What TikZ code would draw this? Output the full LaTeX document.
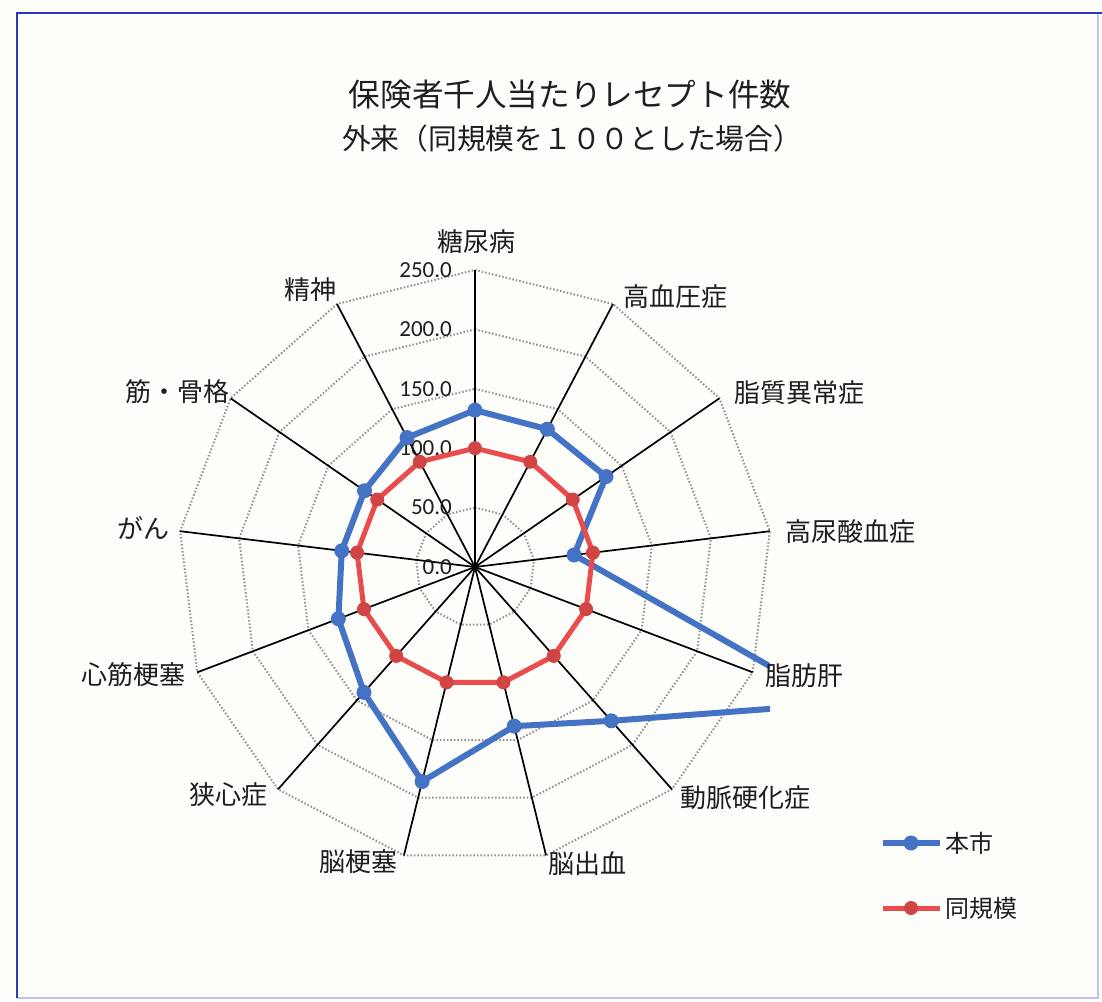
\documentclass[tikz,border=0pt]{standalone}
\usepackage{fontspec}
\setmainfont{Carlito}
\newfontfamily\jpfont{Noto Sans CJK JP}

\definecolor{paper}{RGB}{253,253,249}
\definecolor{honshi}{RGB}{68,114,196}
\definecolor{doukibo}{RGB}{232,76,76}
\definecolor{gridgray}{RGB}{145,145,145}
\definecolor{frameblue}{RGB}{45,55,190}
\definecolor{framelight}{RGB}{200,190,240}
\definecolor{inktext}{RGB}{30,30,30}

\tikzset{
  gridring/.style={gridgray, line width=2pt, dash pattern=on 1.5pt off 2pt},
  spoke/.style={black, line width=1.7pt},
  honshiline/.style={honshi, line width=6pt, line join=round},
  doukiboline/.style={doukibo, line width=5pt, line join=round},
  honshidot/.style={circle, fill=honshi, inner sep=0pt, minimum size=15pt},
  doukibodot/.style={circle, fill=doukibo!90!black, inner sep=0pt, minimum size=14pt},
  catlabel/.style={font=\jpfont\fontsize{26}{30}\selectfont, text=inktext, inner sep=0pt},
  ticklabel/.style={font=\fontsize{23}{26}\selectfont, text=inktext, anchor=east, inner sep=0pt},
}

\begin{document}
\begin{tikzpicture}[x=1pt,y=1pt]
\useasboundingbox (0,0) rectangle (1102,1001);
\fill [paper](0,0) rectangle (1102,1001);
% frame of the scanned sheet
\draw [framelight,line width=2pt](17,3) -- (1098,3) -- (1098,988);
\draw [frameblue,line width=2.5pt](17,3) -- (17,988) -- (1102,988);

% title
\node [catlabel,font=\jpfont\fontsize{31.6}{36}\selectfont] (title1) at (570,906) {保険者千人当たりレセプト件数};
\node [catlabel,font=\jpfont\fontsize{28.75}{34}\selectfont] (title2) at (572,862) {外来（同規模を１００とした場合）};

\begin{scope}[shift={(475,434)}]
\coordinate (ctr) at (0,0);
% rings and spokes
\foreach \r in {50,100,...,250}
  \draw [gridring](90:\r*1.188) \foreach \j in {1,...,12}{ -- (90-\j*360/13:\r*1.188)} -- cycle;
\foreach \i in {0,...,12}{
  \coordinate (e\i) at (90-\i*360/13:297);
  \draw [spoke](ctr) -- (e\i);
}
\foreach \v in {0,50,...,250}
  \node [ticklabel] (tick\v) at (-23,{\v*1.188}) {\v.0};

% series points
\foreach \v [count=\i from 0] in {132,131,134,84,325,173,138,186,141,123,113,113,123}
  \coordinate (b\i) at (90-\i*360/13:\v*1.188);
\foreach \i in {0,...,12}
  \coordinate (r\i) at (90-\i*360/13:118.8);

\begin{scope}
\clip (-460,-420) rectangle (295,420);
\draw [honshiline](b0) \foreach \i in {1,...,12}{ -- (b\i)} -- cycle;
\foreach \i in {0,...,12} \node [honshidot] (bm\i) at (b\i) {};
\end{scope}
\draw [doukiboline](r0) \foreach \i in {1,...,12}{ -- (r\i)} -- cycle;
\foreach \i in {0,...,12} \node [doukibodot] (rm\i) at (r\i) {};

% category labels
\node [catlabel] (lab0) at (1,325) {糖尿病};
\node [catlabel] (lab1) at (200,270) {高血圧症};
\node [catlabel] (lab2) at (324,174) {脂質異常症};
\node [catlabel] (lab3) at (375,35) {高尿酸血症};
\node [catlabel] (lab4) at (329,-109) {脂肪肝};
\node [catlabel] (lab5) at (270,-231) {動脈硬化症};
\node [catlabel] (lab6) at (112,-297) {脳出血};
\node [catlabel] (lab7) at (-117,-295) {脳梗塞};
\node [catlabel] (lab8) at (-247,-228) {狭心症};
\node [catlabel] (lab9) at (-342,-108) {心筋梗塞};
\node [catlabel] (lab10) at (-332,39) {がん};
\node [catlabel] (lab11) at (-298,175) {筋・骨格};
\node [catlabel] (lab12) at (-165,277) {精神};
\end{scope}

% legend
\coordinate (lgbl) at (883,158);
\coordinate (lgbr) at (940,158);
\draw [honshiline](lgbl) -- (lgbr);
\node [honshidot] (lgbm) at (911,158) {};
\node [catlabel,font=\jpfont\fontsize{24}{28}\selectfont,anchor=west] (lgbt) at (945,158) {本市};
\coordinate (lgrl) at (883,93);
\coordinate (lgrr) at (940,93);
\draw [doukiboline](lgrl) -- (lgrr);
\node [doukibodot] (lgrm) at (911,93) {};
\node [catlabel,font=\jpfont\fontsize{24}{28}\selectfont,anchor=west] (lgrt) at (945,93) {同規模};
\end{tikzpicture}
\end{document}
